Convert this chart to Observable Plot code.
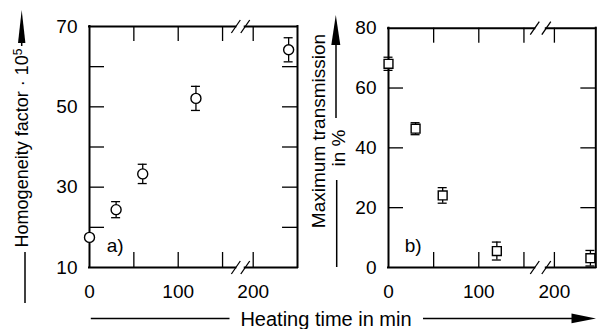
<!DOCTYPE html>
<html><head><meta charset="utf-8">
<script src="https://cdn.jsdelivr.net/npm/d3@7"></script>
<script src="https://cdn.jsdelivr.net/npm/@observablehq/plot@0.6"></script>
<style>
body{margin:0;background:#fff;}
#chart{position:relative;width:597px;height:329px;overflow:hidden;background:#fff;font-family:"Liberation Sans",Arial,sans-serif;}
#chart > svg{position:absolute;top:0;}
</style></head><body><div id="chart"></div>
<script>
// ---- data ----
const timesA = [0, 30, 60, 120, 240];
const homogeneity = [17.5, 24.4, 33.3, 52.1, 64.2];
const homogeneityErr = [0, 2.0, 2.4, 3.0, 3.0];
const timesB = [0, 30, 60, 120, 240];
const transmission = [68.1, 46.4, 24.1, 5.5, 3.1];
const transmissionErr = [2.2, 2.0, 2.6, 3.0, 2.6];
const xTickLabels = [0, 100, 200];
const xTickMarks = [50, 100, 150, 200];
const yTickLabelsA = [10, 30, 50, 70];
const yTickMarksA = [20, 30, 40, 50, 60];
const yTickLabelsB = [0, 20, 40, 60, 80];
const yTickMarksB = [20, 40, 60];
const breakA = [165, 191];
const breakB = [162, 191];

const FONT = '"Liberation Sans", Arial, sans-serif';

function panel(o) {
  const {xDomain, xRange, yDomain, yRange, width, height, times, values, errs,
         yLabels, yTicks, symbol, tag, tagPos, brk} = o;
  const kx = (xRange[1] - xRange[0]) / (xDomain[1] - xDomain[0]);
  const ky = (yRange[0] - yRange[1]) / (yDomain[1] - yDomain[0]);
  const x0 = xDomain[0], x1 = xDomain[xDomain.length - 1];
  const y0 = yDomain[0], y1 = yDomain[1];
  const T = 15;
  const pts = times.map((t, i) => ({t, v: values[i], e: errs[i]}));
  const withErr = pts.filter(d => d.e > 0);
  const cap = 4.5 / kx;
  const sx = 4.5 / kx, sy = 6.5 / ky;
  const slashes = [];
  for (const b of brk) for (const y of [y0, y1]) slashes.push({b, y});
  return Plot.plot({
    width, height,
    marginTop: yRange[1], marginBottom: height - yRange[0],
    marginLeft: xRange[0], marginRight: width - xRange[xRange.length - 1],
    x: {type: "linear", domain: xDomain, range: xRange, label: null},
    y: {type: "linear", domain: yDomain, range: yRange, label: null},
    style: {fontFamily: FONT, fontSize: "19px", color: "black", background: "transparent", overflow: "visible"},
    marks: [
      Plot.axisX(xTickLabels, {tickSize: 0, tickPadding: 17, fontSize: 19, label: null}),
      Plot.axisY(yLabels, {tickSize: 0, tickPadding: 12, fontSize: 19, label: null}),
      // frame
      Plot.ruleX([x0, x1], {y1: y0, y2: y1, stroke: "black", strokeWidth: 2, strokeLinecap: "square"}),
      Plot.ruleY([y0, y1], {x1: x0, x2: brk[0], stroke: "black", strokeWidth: 2, strokeLinecap: "square"}),
      Plot.ruleY([y0, y1], {x1: brk[1], x2: x1, stroke: "black", strokeWidth: 2, strokeLinecap: "square"}),
      // inward ticks
      Plot.ruleX(xTickMarks, {y1: y0, y2: y0 + T / ky, stroke: "black", strokeWidth: 1.3}),
      Plot.ruleX(xTickMarks, {y1: y1, y2: y1 - T / ky, stroke: "black", strokeWidth: 1.3}),
      Plot.ruleY(yTicks, {x1: x0, x2: x0 + T / kx, stroke: "black", strokeWidth: 1.3}),
      Plot.ruleY(yTicks, {x1: x1, x2: x1 - T / kx, stroke: "black", strokeWidth: 1.3}),
      // axis break slashes
      Plot.link(slashes, {x1: d => d.b - sx, y1: d => d.y - sy, x2: d => d.b + sx, y2: d => d.y + sy, stroke: "black", strokeWidth: 1.3}),
      // error bars
      Plot.ruleX(withErr, {x: "t", y1: d => d.v - d.e, y2: d => d.v + d.e, stroke: "black", strokeWidth: 1.3}),
      Plot.ruleY(withErr, {y: d => d.v + d.e, x1: d => d.t - cap, x2: d => d.t + cap, stroke: "black", strokeWidth: 1.3}),
      Plot.ruleY(withErr, {y: d => d.v - d.e, x1: d => d.t - cap, x2: d => d.t + cap, stroke: "black", strokeWidth: 1.3}),
      Plot.dot(pts, {x: "t", y: "v", r: 5, symbol, fill: "white", stroke: "black", strokeWidth: 1.4}),
      Plot.text([tag], {x: tagPos[0], y: tagPos[1], text: d => d, fontSize: 19, fill: "black"})
    ]
  });
}

const chart = document.getElementById("chart");

const plotA = panel({
  width: 298, height: 329,
  xDomain: [0, 170, 186, 250], xRange: [89, 239.8, 240.3, 297],
  yDomain: [10, 70], yRange: [267, 26],
  times: timesA, values: homogeneity, errs: homogeneityErr,
  yLabels: yTickLabelsA, yTicks: yTickMarksA, symbol: "circle",
  tag: "a)", tagPos: [29, 15.5], brk: breakA
});
plotA.style.left = "0px";
chart.appendChild(plotA);

const plotB = panel({
  width: 300, height: 329,
  xDomain: [0, 168, 185, 246], xRange: [91, 242.7, 243.4, 298.3],
  yDomain: [0, 80], yRange: [267, 27.7],
  times: timesB, values: transmission, errs: transmissionErr,
  yLabels: yTickLabelsB, yTicks: yTickMarksB, symbol: "square",
  tag: "b)", tagPos: [27.4, 7.2], brk: breakB
});
plotB.style.left = "297px";
chart.appendChild(plotB);

// ---- axis titles with arrows ----
const ov = d3.select(chart).append("svg")
  .attr("width", 597).attr("height", 329)
  .style("position", "absolute").style("left", "0px").style("top", "0px")
  .style("font-family", FONT);

// left title
const tl = ov.append("text").attr("transform", "translate(27.5,148) rotate(-90)")
  .attr("text-anchor", "middle").attr("font-size", 18).attr("fill", "black");
tl.append("tspan").text("Homogeneity factor · 10");
tl.append("tspan").attr("dy", "-0.45em").attr("font-size", 12).text("5");
ov.append("line").attr("x1", 21.7).attr("x2", 21.7).attr("y1", 46).attr("y2", 36).attr("stroke", "black").attr("stroke-width", 1.5);
ov.append("path").attr("d", "M21.7,10 L18,43 L25.4,43 Z").attr("fill", "black");
ov.append("line").attr("x1", 25).attr("x2", 25).attr("y1", 252).attr("y2", 303).attr("stroke", "black").attr("stroke-width", 1.5);

// right title
ov.append("text").attr("transform", "translate(324.5,131) rotate(-90)")
  .attr("text-anchor", "middle").attr("font-size", 19).attr("fill", "black").text("Maximum transmission");
ov.append("text").attr("transform", "translate(345,148) rotate(-90)")
  .attr("text-anchor", "middle").attr("font-size", 19).attr("fill", "black").text("in %");
ov.append("line").attr("x1", 336).attr("x2", 336).attr("y1", 118).attr("y2", 40).attr("stroke", "black").attr("stroke-width", 1.5);
ov.append("path").attr("d", "M335.8,15 L331.3,45 L340.3,45 Z").attr("fill", "black");
ov.append("line").attr("x1", 336.7).attr("x2", 336.7).attr("y1", 180).attr("y2", 267).attr("stroke", "black").attr("stroke-width", 1.5);

// bottom title
ov.append("text").attr("x", 326).attr("y", 326).attr("text-anchor", "middle")
  .attr("font-size", 20).attr("fill", "black").text("Heating time in min");
ov.append("line").attr("x1", 90.8).attr("x2", 229.5).attr("y1", 318.4).attr("y2", 318.4).attr("stroke", "black").attr("stroke-width", 1.5);
ov.append("line").attr("x1", 423).attr("x2", 575).attr("y1", 318.4).attr("y2", 318.4).attr("stroke", "black").attr("stroke-width", 1.5);
ov.append("path").attr("d", "M596,318.4 L571.5,313.6 L571.5,323.2 Z").attr("fill", "black");
</script>
</body></html>
